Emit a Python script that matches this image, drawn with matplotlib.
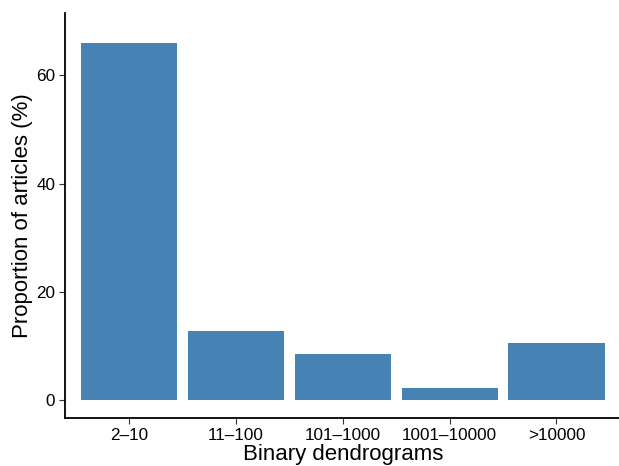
import matplotlib
matplotlib.use("Agg")
import matplotlib.pyplot as plt

plt.rcParams['font.family'] = ['Liberation Sans', 'DejaVu Sans']

# data
categories = ["2\u201310", "11\u2013100", "101\u20131000", "1001\u201310000", ">10000"]
proportions = [66.0, 12.9, 8.6, 2.2, 10.6]

fig = plt.figure(figsize=(6.19, 4.66), dpi=100)
ax = fig.add_axes([65 / 619, 1 - 418.3 / 466, 555.6 / 619, (418.3 - 13) / 466])

xpos = range(len(categories))
ax.bar(xpos, proportions, width=0.9, color="#4682B4")

ax.set_xlim(-0.6, len(categories) - 0.4)
ax.set_ylim(-3.3, 71.5)
ax.set_xticks(list(xpos))
ax.set_xticklabels(categories)
ax.set_yticks([0, 20, 40, 60])

for side in ["top", "right"]:
    ax.spines[side].set_visible(False)
for side in ["left", "bottom"]:
    ax.spines[side].set_linewidth(1.3)
    ax.spines[side].set_color("black")

ax.tick_params(axis="both", length=4, width=0.8, color="#333333",
               labelsize=12.3, labelcolor="black", pad=3)

ax.set_xlabel("Binary dendrograms", fontsize=16, labelpad=1)
ax.set_ylabel("Proportion of articles (%)", fontsize=16, labelpad=2)

fig.savefig("out.png", dpi=100)
